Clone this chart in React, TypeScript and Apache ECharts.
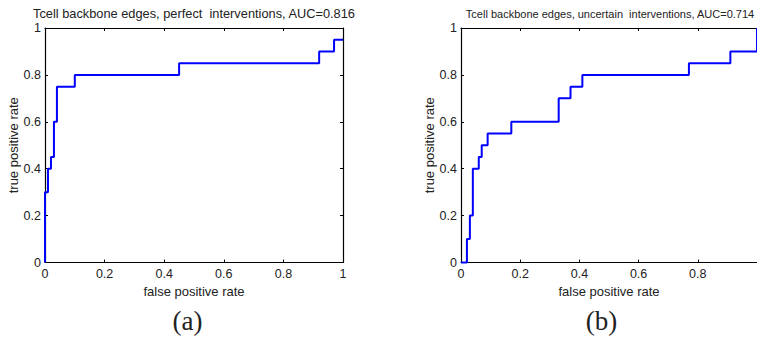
import React, { useEffect, useRef } from "react";
import * as echarts from "echarts";

// Panel (a): perfect interventions
const fprA = [0, 0, 0.01, 0.02, 0.03, 0.04, 0.1, 0.45, 0.92, 0.97, 1];
const tprA = [0, 0.3, 0.4, 0.45, 0.6, 0.75, 0.8, 0.85, 0.9, 0.95, 0.95];

// Panel (b): uncertain interventions
const fprB = [0, 0.02, 0.02, 0.03, 0.04, 0.06, 0.07, 0.09, 0.17, 0.33, 0.37, 0.41, 0.77, 0.91, 1];
const tprB = [0, 0, 0.1, 0.2, 0.4, 0.45, 0.5, 0.55, 0.6, 0.7, 0.75, 0.8, 0.85, 0.9, 1];

const titleA = "Tcell backbone edges, perfect  interventions, AUC=0.816";
const titleB = "Tcell backbone edges, uncertain  interventions, AUC=0.714";
const xName = "false positive rate";
const yName = "true positive rate";
const panelLabels = ["(a)", "(b)"];

const FONT = '"Liberation Sans", Arial, Helvetica, sans-serif';
const TXT = "#222";

function pairs(xs: number[], ys: number[]) {
  return xs.map((x, i) => [x, ys[i]]);
}

function xAxisMain(gridIndex: number, showMax: boolean) {
  return {
    type: "value",
    gridIndex,
    min: 0,
    max: 1,
    interval: 0.2,
    position: "bottom",
    name: xName,
    nameLocation: "middle",
    nameGap: 19,
    nameTextStyle: { fontSize: 13, color: TXT, fontFamily: FONT },
    axisLine: { show: true, onZero: false, lineStyle: { color: "#000", width: 1.2 } },
    axisTick: { show: true, inside: true, length: 3, lineStyle: { color: "#000" } },
    axisLabel: { show: true, margin: 5, fontSize: 12.5, color: TXT, fontFamily: FONT, showMaxLabel: showMax },
    splitLine: { show: false },
  };
}
function xAxisTop(gridIndex: number) {
  return {
    type: "value",
    gridIndex,
    min: 0,
    max: 1,
    interval: 0.2,
    position: "top",
    axisLine: { show: true, onZero: false, lineStyle: { color: "#000", width: 1.2 } },
    axisTick: { show: true, inside: true, length: 3, lineStyle: { color: "#000" } },
    axisLabel: { show: false },
    splitLine: { show: false },
  };
}
function yAxisMain(gridIndex: number) {
  return {
    type: "value",
    gridIndex,
    min: 0,
    max: 1,
    interval: 0.2,
    position: "left",
    name: yName,
    nameLocation: "middle",
    nameGap: 24,
    nameTextStyle: { fontSize: 13, color: TXT, fontFamily: FONT },
    axisLine: { show: true, onZero: false, lineStyle: { color: "#000", width: 1.2 } },
    axisTick: { show: true, inside: true, length: 3, lineStyle: { color: "#000" } },
    axisLabel: { show: true, margin: 4, fontSize: 12.5, color: TXT, fontFamily: FONT },
    splitLine: { show: false },
  };
}
function yAxisRight(gridIndex: number) {
  return {
    type: "value",
    gridIndex,
    min: 0,
    max: 1,
    interval: 0.2,
    position: "right",
    axisLine: { show: true, onZero: false, lineStyle: { color: "#000", width: 1.2 } },
    axisTick: { show: true, inside: true, length: 3, lineStyle: { color: "#000" } },
    axisLabel: { show: false },
    splitLine: { show: false },
  };
}

export default function App() {
  const ref = useRef<HTMLDivElement>(null);
  useEffect(() => {
    if (!ref.current) return;
    const chart = echarts.init(ref.current, null, { renderer: "svg" });
    chart.setOption({
      animation: false,
      backgroundColor: "#fff",
      grid: [
        { left: 45, top: 28, width: 298, height: 234.5, containLabel: false, outerBoundsMode: "none" },
        { left: 461, top: 28, width: 296, height: 234.5, containLabel: false, outerBoundsMode: "none" },
      ],
      xAxis: [xAxisMain(0, true), xAxisTop(0), xAxisMain(1, false), xAxisTop(1)],
      yAxis: [yAxisMain(0), yAxisRight(0), yAxisMain(1)],
      series: [
        {
          type: "line",
          xAxisIndex: 0,
          yAxisIndex: 0,
          data: pairs(fprA, tprA),
          step: "end",
          showSymbol: false,
          symbol: "none",
          clip: false,
          lineStyle: { color: "#0000ff", width: 2 },
          z: 5,
        },
        {
          type: "line",
          xAxisIndex: 2,
          yAxisIndex: 2,
          data: pairs(fprB, tprB),
          step: "end",
          showSymbol: false,
          symbol: "none",
          clip: false,
          lineStyle: { color: "#0000ff", width: 2 },
          z: 5,
        },
      ],
      graphic: [
        {
          type: "text",
          x: 194,
          y: 13.5,
          style: { text: titleA, fontSize: 12.8, fontFamily: FONT, fill: TXT, align: "center", verticalAlign: "middle" },
        },
        {
          type: "text",
          x: 610,
          y: 14,
          style: { text: titleB, fontSize: 11, fontFamily: FONT, fill: TXT, align: "center", verticalAlign: "middle" },
        },
        {
          type: "text",
          x: 187.5,
          y: 321,
          style: { text: panelLabels[0], fontSize: 27, fontFamily: '"Liberation Serif", "Times New Roman", serif', fill: TXT, align: "center", verticalAlign: "middle" },
        },
        {
          type: "text",
          x: 601.5,
          y: 321,
          style: { text: panelLabels[1], fontSize: 27, fontFamily: '"Liberation Serif", "Times New Roman", serif', fill: TXT, align: "center", verticalAlign: "middle" },
        },
      ],
    });
    return () => chart.dispose();
  }, []);
  return (
    <div
      ref={ref}
      style={{ position: "fixed", left: 0, top: 0, width: 757, height: 340, background: "#fff" }}
    />
  );
}
